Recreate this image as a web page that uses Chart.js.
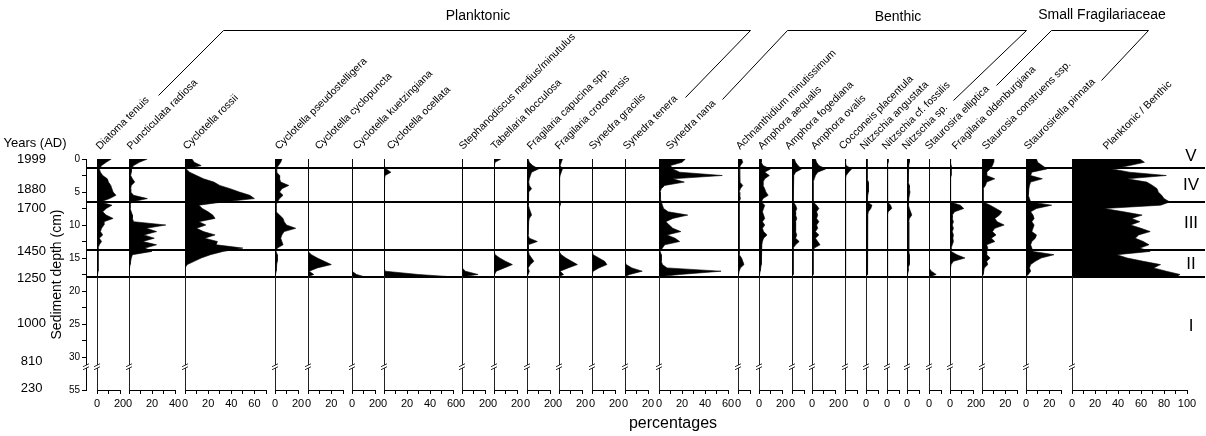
<!DOCTYPE html>
<html>
<head>
<meta charset="utf-8">
<script src="https://cdn.jsdelivr.net/npm/chart.js@4.4.1/dist/chart.umd.min.js"></script>
<style>
  html, body { margin: 0; padding: 0; background: #fff; }
  #wrap { position: relative; width: 1206px; height: 436px; overflow: hidden; background: #fff; }
  #wrap canvas { position: absolute; top: 0; }
</style>
</head>
<body>
<div id="wrap"></div>
<script>
// ---- sample depths (cm) ----
const depthsCm = [0, 0.5, 1, 1.5, 2, 2.5, 3, 3.5, 4, 4.5, 5, 5.5, 6, 6.5, 7, 7.5, 8, 8.5, 9, 9.5,
  10, 10.5, 11, 11.5, 12, 12.5, 13, 13.5, 14, 14.5, 15, 15.5, 16, 16.5, 17, 17.5, 17.8];

// ---- relative abundances (%) per taxon, one value per sample depth ----
const diatomaTenuis = [12.5, 8, 4, 2, 3, 5, 9, 10, 12, 13, 14, 16.5, 11, 3, 13, 8, 5, 8, 14, 6, 6, 4, 3, 5, 2, 4, 2, 1, 1, 1, 1, 1, 1, 1, 1, 0.5, 0];
const puncticulataRadiosa = [16, 9, 4, 2, 2, 1.5, 3, 5, 2, 1.5, 1.5, 4, 16, 2, 1, 1, 2, 3, 3, 4, 32, 15, 24, 13, 22, 12, 24, 14, 20, 3, 2, 1.5, 1, 0.5, 0, 0, 0];
const cyclotellaRossii = [6, 8, 14, 1, 4, 10, 16, 25, 30, 39, 47, 56, 60, 33, 12, 15, 20, 24, 26, 12, 18, 10, 16, 26, 17, 28, 27, 50, 33, 22, 14, 8, 2, 0, 0, 0, 0];
const cyclotellaPseudostelligera = [6, 5, 3, 1, 1.5, 4, 4, 5, 12, 6, 4, 7, 4, 2, 1, 1, 1, 4, 7, 8, 10, 18, 8, 6, 5, 6, 7, 2, 1, 2, 2, 2, 1.5, 1, 1, 0.5, 0];
const cyclotellaCyclopuncta = [0, 0, 0, 0, 0, 0, 0, 0, 0, 0, 0, 0, 0, 0, 0, 0, 0, 0, 0, 0, 0, 0, 0, 0, 0, 0, 0, 0, 0, 3, 8, 14, 20, 8, 1, 5, 0];
const cyclotellaKuetzingiana = [0, 0, 0, 0, 0, 0, 0, 0, 0, 0, 0, 0, 0, 0, 0, 0, 0, 0, 0, 0, 0, 0, 0, 0, 0, 0, 0, 0, 0, 0, 0, 0, 0, 0, 0.5, 4, 10];
const cyclotellaOcellata = [0, 0, 0, 2, 6, 1, 0.5, 0.5, 0.5, 0.5, 0, 0, 0, 0, 0, 0, 0, 0, 0, 0, 0.5, 0, 0, 0, 0, 0, 0, 0, 0, 0.5, 0.5, 0.5, 0.5, 0.5, 1, 30, 55];
const stephanodiscusMedius = [0, 0, 0, 0, 0, 0, 0, 0, 0, 0, 0, 0, 0, 0, 0, 0, 0, 0, 0, 0, 0, 0, 0, 0, 0, 0, 0, 0, 0, 0.8, 0.8, 0.8, 0.8, 0.8, 3, 14, 1];
const tabellariaFlocculosa = [6, 1, 0.3, 0.3, 0.3, 0.3, 0.3, 0.3, 0.3, 0, 0, 0, 0, 0, 0, 0, 0, 0, 0, 0, 0, 0, 0, 0, 0, 0, 0, 0, 0.5, 1, 5, 10, 16, 9, 2, 0.5, 0];
const fragilariaCapucina = [1, 2, 5, 10, 4, 3, 2, 1.5, 2, 4, 1.5, 1.5, 1, 1, 1.5, 2, 3, 4, 2, 1.5, 1, 1, 1, 1, 2, 9, 1, 1, 1.5, 2, 4, 6, 3, 1, 2, 1, 0];
const fragilariaCrotonensis = [3, 2, 1, 3, 2, 1, 0.5, 0.5, 0.5, 0.5, 0.5, 0.5, 0.5, 1, 1, 0, 0, 0, 0, 0, 0, 0, 0, 0, 0, 0, 0, 0, 0, 2, 6, 11, 16, 8, 1, 4, 0];
const synedraGracilis = [0, 0, 0, 0, 0, 0, 0, 0, 0, 0, 0, 0, 0, 0, 0, 0, 0, 0, 0, 0, 0, 0, 0, 0, 0, 0, 0, 0, 0, 1, 6, 11, 13, 6, 1, 0, 0];
const synedraTenera = [0, 0, 0, 0, 0, 0, 0, 0, 0, 0, 0, 0, 0, 0, 0, 0, 0, 0, 0, 0, 0, 0, 0, 0, 0, 0, 0, 0, 0, 0, 0, 0, 1, 6, 15, 4, 0];
const synedraNana = [23, 20, 10, 12, 18, 55, 12, 22, 5, 2, 1, 1, 1.5, 2, 3, 4, 8, 25, 12, 6, 9, 12, 19, 7, 14, 18, 5, 3, 1, 2, 2, 2, 3, 7, 54, 18, 1];
const achnanthidiumMinutissimum = [3, 4, 2, 1, 1.5, 1.5, 1.5, 1.5, 4, 2, 1, 1.5, 2, 1, 1, 1, 1, 1, 1, 1, 1, 1, 1, 1, 1, 1, 1, 1, 1, 1, 3, 4, 5, 2, 1, 0.5, 0];
const amphoraAequalis = [2, 2, 3.5, 10, 5, 9, 5, 3.5, 3.5, 5, 6, 8, 3.5, 2, 5, 4, 3, 4, 5, 3, 5, 3, 4, 7, 4, 3, 2.5, 2, 2, 2, 2, 2, 2, 1.5, 1, 0.5, 0];
const amphoraFogediana = [2, 3, 5, 8, 3, 1.5, 1, 1, 1, 1, 1, 1, 1, 1, 3, 4, 3, 3, 4, 3, 3, 3, 3, 4, 3, 6, 3, 1, 1, 1, 1, 1, 1, 1, 1, 1, 0];
const amphoraOvalis = [3, 4, 6, 12, 5, 3, 2, 1, 1, 1, 1, 1, 1, 1, 4, 6, 4, 5, 4, 6, 4, 5, 3, 6, 3, 5, 7, 2, 1, 1, 1, 1, 1, 1, 1, 1, 0];
const cocconeisPlacentula = [0.5, 0.5, 1, 5.5, 3, 1, 0.5, 0.5, 0.5, 0.5, 0.5, 0.5, 0.5, 0.5, 0.5, 0.5, 0.5, 0.5, 0.5, 0.5, 0.5, 0.5, 0.5, 0.5, 0.5, 0.5, 0.5, 0.5, 0.5, 0.5, 0.5, 0.5, 0.5, 0.5, 0.5, 0.5, 0];
const nitzschiaAngustata = [1, 1, 1, 1, 1, 1, 1, 2, 2, 2, 2, 1.5, 1, 1, 5, 4, 2, 1.5, 1, 1.5, 1.5, 1.5, 1.5, 1.5, 1.5, 1.5, 1.5, 1.5, 1.5, 1, 1, 1, 1, 1, 1, 1, 0];
const nitzschiaFossilis = [1, 1, 0.5, 0.5, 0.5, 0.5, 0.5, 0.5, 0.5, 0.5, 0.5, 0.5, 0.5, 0.5, 3, 4, 1, 0.5, 0.5, 0.5, 0.5, 0.5, 0.5, 0.5, 0.5, 0.5, 0.5, 0.5, 0.5, 0.5, 0.5, 0.5, 0.5, 0.5, 0.5, 0.5, 0];
const nitzschiaSp = [2, 2, 1.5, 1, 1, 1, 1, 1, 2, 2, 2.5, 2, 1.5, 1, 1.5, 2, 3, 4, 2, 1.5, 1.5, 1.5, 1.5, 1.5, 1.5, 1.5, 1.5, 1.5, 1.5, 2, 2, 2, 2, 1, 1, 0.5, 0];
const staurosiraElliptica = [0, 0, 0, 0, 0, 0, 0, 0, 0, 0, 0, 0, 0, 0, 0, 0, 0, 0, 0, 0, 0, 0, 0, 0, 0, 0, 0, 0, 0, 0, 0, 0, 0, 0, 2, 6, 1];
const fragilariaOldenburgiana = [0.5, 0.5, 1, 1, 1, 1, 0.5, 0.5, 0.5, 0.5, 0.5, 0.5, 0.5, 0.5, 9, 12, 4, 2, 2, 3, 2, 3, 2, 3, 2.5, 3, 2, 1, 1, 6, 13, 3, 1, 0.5, 0, 0, 0];
const staurosiaConstruens = [10, 10, 9, 7, 4, 4, 11, 4, 3, 1, 1, 1, 1, 1, 7, 12, 17, 15, 11, 13, 19, 11, 9, 12, 8, 11, 4, 5, 4, 4, 7, 4, 5, 2, 1.5, 1, 0];
const staurosirellaPinnata = [9, 10, 14, 18, 5, 4, 14, 4, 3, 2.5, 2, 2, 3, 4, 22, 9, 4, 6, 7, 5, 7, 6, 5, 9, 8, 5, 4, 5, 6, 24, 13, 8, 4, 3, 4, 2, 0];
const planktonicBenthic = [59, 63, 50, 35, 50, 82, 48, 65, 70, 74, 75, 78, 80, 85, 77, 28, 45, 61, 52, 59, 51, 60, 68, 58, 55, 62, 67, 59, 68, 39, 48, 62, 77, 71, 82, 94, 91];

// ---- panel names and the series they show ----
const taxa = ['Diatoma tenuis', 'Puncticulata radiosa', 'Cyclotella rossii', 'Cyclotella pseudostelligera',
  'Cyclotella cyclopuncta', 'Cyclotella kuetzingiana', 'Cyclotella ocellata', 'Stephanodiscus medius/minutulus',
  'Tabellaria flocculosa', 'Fragilaria capucina spp.', 'Fragilaria crotonensis', 'Synedra gracilis',
  'Synedra tenera', 'Synedra nana', 'Achnanthidium minutissimum', 'Amphora aequalis', 'Amphora fogediana',
  'Amphora ovalis', 'Cocconeis placentula', 'Nitzschia angustata', 'Nitzschia cf. fossilis', 'Nitzschia sp.',
  'Staurosira elliptica', 'Fragilaria oldenburgiana', 'Staurosia construens ssp.', 'Staurosirella pinnata',
  'Planktonic / Benthic'];
const series = [diatomaTenuis, puncticulataRadiosa, cyclotellaRossii, cyclotellaPseudostelligera,
  cyclotellaCyclopuncta, cyclotellaKuetzingiana, cyclotellaOcellata, stephanodiscusMedius,
  tabellariaFlocculosa, fragilariaCapucina, fragilariaCrotonensis, synedraGracilis, synedraTenera,
  synedraNana, achnanthidiumMinutissimum, amphoraAequalis, amphoraFogediana, amphoraOvalis,
  cocconeisPlacentula, nitzschiaAngustata, nitzschiaFossilis, nitzschiaSp, staurosiraElliptica,
  fragilariaOldenburgiana, staurosiaConstruens, staurosirellaPinnata, planktonicBenthic];
const axisMax = [20, 40, 70, 20, 30, 20, 60, 20, 20, 20, 20, 20, 20, 60, 10, 20, 10, 20, 10, 10, 10, 10, 10, 20, 30, 30, 100];

// ---- depth axis, chronology and zones ----
const depthTicks = [0, 2.5, 5, 7.5, 10, 12.5, 15, 17.5, 20, 22.5, 25, 27.5, 30, 55];
const yearLabels = ['1999', '1880', '1700', '1450', '1250', '1000', '810', '230'];
const yearDepths = [0, 4.55, 7.45, 13.95, 18.1, 24.9, 33, 53.5];
const zoneBounds = [1.4, 6.5, 13.75, 17.9];
const zoneNames = ['V', 'IV', 'III', 'II', 'I'];
const zoneLabelDepths = [-0.35, 3.94, 9.8, 15.9, 25.4];
const groupNames = ['Planktonic', 'Benthic', 'Small Fragilariaceae'];

// ---- layout ----
const W = 1206, H = 436;
const PLOT_TOP = 159, PLOT_BOTTOM = 390, AXIS_H = 30;
const PX_PER_PCT = 1.15;
const panelX = [97, 129, 185, 275, 308, 352, 384, 462, 494, 527, 559, 592, 625, 659, 738, 759, 792, 812, 845, 866, 887, 907, 929, 950, 982, 1026, 1072];
const labelDx = [3, 2, 2, 4, 11, 5, 7, 1, 1, 4, 0, 1, 2, 11, 2, 3, -3, 3, -2, -2, -1, -1, 0, 6, 4, 2, 35];
const groupLayout = [
  { tx: 478, ty: 16, path: [[158, 95], [223, 30], [750, 30], [685, 97]] },
  { tx: 898, ty: 17, path: [[722, 99], [787, 30], [1026, 30], [953, 100]] },
  { tx: 1102, ty: 15, path: [[996, 85], [1051, 30], [1148, 30], [1101, 80]] }
];
const FONT = '"Liberation Sans", Arial, Helvetica, sans-serif';
const BREAK_AT = 31.4;   // axis position of the scale break (between 30 and 55 cm)

// broken depth axis: 0-30 cm linear, 30-55 cm compressed 5x
const toAxis = d => (d <= 30 ? d : 30 + (d - 30) / 5);

Chart.defaults.font.family = FONT;
Chart.defaults.color = '#000';

const wrap = document.getElementById('wrap');
function addCanvas(left, width) {
  const cv = document.createElement('canvas');
  cv.width = width; cv.height = H;
  cv.style.left = left + 'px';
  cv.style.width = width + 'px';
  cv.style.height = H + 'px';
  wrap.appendChild(cv);
  return cv;
}

function drawBreak(ctx, x, y) {
  ctx.save();
  ctx.fillStyle = '#fff';
  ctx.beginPath();
  ctx.moveTo(x - 3, y + 0.5); ctx.lineTo(x + 3, y - 2.5);
  ctx.lineTo(x + 3, y + 0.5); ctx.lineTo(x - 3, y + 3.5);
  ctx.closePath(); ctx.fill();
  ctx.strokeStyle = '#000'; ctx.lineWidth = 0.8;
  ctx.beginPath();
  ctx.moveTo(x - 3, y + 0.5); ctx.lineTo(x + 3, y - 2.5);
  ctx.moveTo(x - 3, y + 3.5); ctx.lineTo(x + 3, y + 0.5);
  ctx.stroke();
  ctx.restore();
}

const panelBreak = {
  id: 'panelBreak',
  afterDraw(chart) {
    const x = chart.scales.x.getPixelForValue(0);
    const y = chart.scales.y.getPixelForValue(BREAK_AT);
    drawBreak(chart.ctx, x, y);
  }
};

// ---- background: depth / age axes, zone lines, headers ----
const decor = {
  id: 'decor',
  afterDraw(chart) {
    const ctx = chart.ctx;
    const ys = chart.scales.depth;
    const a = chart.chartArea;
    ctx.save();
    ctx.strokeStyle = '#000';
    ctx.lineWidth = 2;
    zoneBounds.forEach(d => {
      const y = Math.round(ys.getPixelForValue(toAxis(d)));
      ctx.beginPath(); ctx.moveTo(a.left, y); ctx.lineTo(a.right, y); ctx.stroke();
    });
    ctx.fillStyle = '#000';
    ctx.font = '17px ' + FONT;
    ctx.textAlign = 'center'; ctx.textBaseline = 'middle';
    zoneNames.forEach((n, i) => ctx.fillText(n, 1191, ys.getPixelForValue(zoneLabelDepths[i])));

    drawBreak(ctx, a.left, ys.getPixelForValue(BREAK_AT));

    ctx.font = '13px ' + FONT;
    ctx.fillText('Years (AD)', 35, 143);
    ctx.font = '16px ' + FONT;
    ctx.fillText('percentages', 673, 424);

    // taxon names
    ctx.font = '10.5px ' + FONT;
    ctx.textAlign = 'left'; ctx.textBaseline = 'alphabetic';
    taxa.forEach((t, i) => {
      ctx.save();
      ctx.translate(panelX[i] + labelDx[i], 150);
      ctx.rotate(-Math.PI / 4);
      ctx.fillText(t, 0, 0);
      ctx.restore();
    });

    // ecological groups
    ctx.lineWidth = 1;
    ctx.font = '14px ' + FONT;
    ctx.textAlign = 'center'; ctx.textBaseline = 'middle';
    groupLayout.forEach((g, i) => {
      ctx.beginPath();
      g.path.forEach(([px, py], k) => (k ? ctx.lineTo(px + 0.5, py + 0.5) : ctx.moveTo(px + 0.5, py + 0.5)));
      ctx.stroke();
      ctx.fillText(groupNames[i], g.tx, g.ty);
    });
    ctx.restore();
  }
};

new Chart(addCanvas(0, W), {
  type: 'line',
  data: { datasets: [] },
  options: {
    responsive: false, animation: false, devicePixelRatio: 1, events: [],
    layout: { padding: { left: 0, right: 1, top: PLOT_TOP, bottom: H - PLOT_BOTTOM } },
    plugins: { legend: { display: false }, tooltip: { enabled: false } },
    scales: {
      x: { type: 'linear', display: false, min: 0, max: 1 },
      depth: {
        axis: 'y', type: 'linear', position: 'left', weight: 0, min: 0, max: 35, reverse: true,
        afterFit: s => { s.width = 40; },
        afterBuildTicks: s => { s.ticks = depthTicks.map(d => ({ value: toAxis(d) })); },
        ticks: {
          autoSkip: false, padding: 2, color: '#000', font: { size: 10 },
          callback: (v, i) => (depthTicks[i] % 5 === 0 ? String(depthTicks[i]) : '')
        },
        grid: { drawOnChartArea: false, tickLength: 4, color: '#000', tickColor: '#000' },
        border: { display: true, color: '#000', width: 1 },
        title: { display: true, text: 'Sediment depth (cm)', color: '#000', font: { size: 14 }, padding: { top: 3, bottom: 0 } }
      },
      years: {
        axis: 'y', type: 'linear', position: 'left', weight: 1, min: 0, max: 35, reverse: true,
        afterFit: s => { s.width = 46; },
        afterBuildTicks: s => { s.ticks = yearDepths.map(d => ({ value: toAxis(d) })); },
        ticks: {
          autoSkip: false, padding: 0, crossAlign: 'center', color: '#000', font: { size: 13 },
          callback: (v, i) => yearLabels[i]
        },
        grid: { display: false, drawTicks: false },
        border: { display: false }
      }
    }
  },
  plugins: [decor]
});

// ---- one stratigraphic panel per taxon ----
series.forEach((vals, i) => {
  const padL = 10, padR = 14;
  const plotW = Math.round(axisMax[i] * PX_PER_PCT);
  const cv = addCanvas(panelX[i] - padL, plotW + padL + padR);
  new Chart(cv, {
    type: 'line',
    data: {
      datasets: [{
        data: depthsCm.map((d, k) => ({ x: vals[k], y: toAxis(d) })),
        fill: 'origin',
        backgroundColor: '#000',
        borderColor: '#000',
        borderWidth: 0.6,
        pointRadius: 0,
        tension: 0
      }]
    },
    options: {
      indexAxis: 'y',
      responsive: false, animation: false, devicePixelRatio: 1, events: [],
      layout: { padding: { left: padL, right: padR, top: PLOT_TOP, bottom: H - PLOT_BOTTOM - AXIS_H } },
      plugins: { legend: { display: false }, tooltip: { enabled: false } },
      scales: {
        x: {
          type: 'linear', position: 'bottom', min: 0, max: axisMax[i],
          afterFit: s => { s.height = AXIS_H; },
          ticks: {
            stepSize: 10, autoSkip: false, maxRotation: 0, padding: 3, color: '#000', font: { size: 11 },
            callback: v => (v % 20 === 0 ? String(v) : '')
          },
          grid: {
            color: c => (c.tick && c.tick.value === 0 ? '#222' : 'rgba(0,0,0,0)'),
            tickColor: '#000', tickLength: 4, lineWidth: 1
          },
          border: { display: true, color: '#000', width: 1 }
        },
        y: { type: 'linear', min: 0, max: 35, reverse: true, display: false }
      }
    },
    plugins: [panelBreak]
  });
});
</script>
</body>
</html>
